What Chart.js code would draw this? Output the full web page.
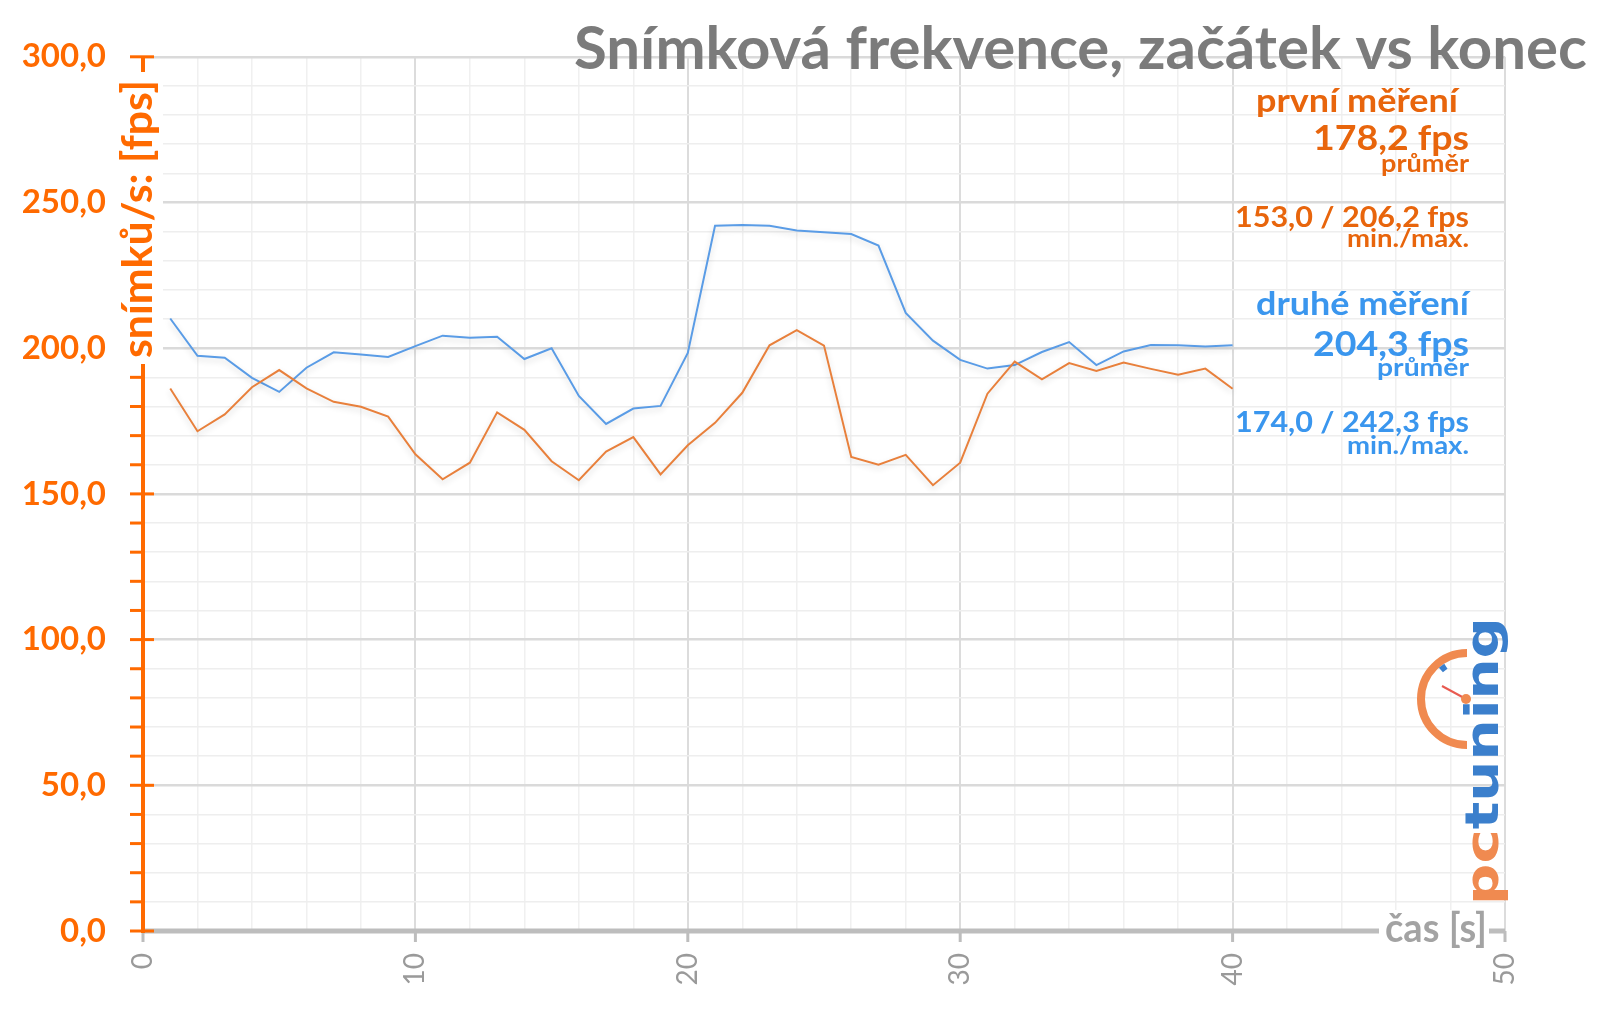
<!DOCTYPE html>
<html><head><meta charset="utf-8">
<script src="https://cdn.jsdelivr.net/npm/chart.js@4.4.0/dist/chart.umd.min.js"></script>
<style>html,body{margin:0;padding:0;background:#fff;overflow:hidden}</style>
</head><body>
<canvas id="c" width="1600" height="1015"></canvas>
<script>
const seconds = [1,2,3,4,5,6,7,8,9,10,11,12,13,14,15,16,17,18,19,20,21,22,23,24,25,26,27,28,29,30,31,32,33,34,35,36,37,38,39,40];
const firstRun = [186.2,171.5,177.3,186.6,192.5,186.2,181.6,179.9,176.5,163.6,
                  155.0,160.7,178.0,172.0,161.2,154.7,164.5,169.5,156.7,166.7,
                  174.4,184.7,201.0,206.2,200.9,162.7,160.0,163.4,153.0,160.7,
                  184.4,195.4,189.3,194.9,192.2,195.1,192.9,190.9,193.0,186.1];
const secondRun = [210.2,197.4,196.7,189.8,185.0,193.3,198.6,197.8,197.0,200.7,
                   204.3,203.6,203.9,196.3,200.0,183.6,174.0,179.3,180.2,198.4,
                   242.0,242.3,242.0,240.4,239.8,239.2,235.2,212.1,202.6,196.0,
                   193.0,194.2,198.7,202.1,194.2,198.9,201.1,201.0,200.6,201.0];
const yTickValues = [0,50,100,150,200,250,300];
const xTickValues = [0,10,20,30,40,50];
const chartTitle = 'Snímková frekvence, začátek vs konec';
const yTitle = 'snímků/s: [fps]';
const xTitle = 'čas [s]';
const firstLabel = ['první měření','178,2 fps','průměr','153,0 / 206,2 fps','min./max.'];
const secondLabel = ['druhé měření','204,3 fps','průměr','174,0 / 242,3 fps','min./max.'];

const ORANGE_AX = '#ff6a00';
const ORANGE_TXT = '#e8650c';
const BLUE_TXT = '#3a96ee';

function fitText(ctx, text, x, y, targetW, font, color, align) {
  ctx.save();
  ctx.font = font; ctx.fillStyle = color; ctx.textBaseline = 'alphabetic';
  const w = ctx.measureText(text).width;
  const s = targetW / w;
  ctx.translate(x, y); ctx.scale(s, 1);
  ctx.textAlign = align || 'right';
  ctx.fillText(text, 0, 0);
  ctx.restore();
}

const shadowPlugin = {
  id: 'shadow',
  beforeDatasetDraw(chart) {
    const ctx = chart.ctx; ctx.save();
    ctx.shadowColor = 'rgba(0,0,0,0.16)'; ctx.shadowBlur = 6; ctx.shadowOffsetY = 3;
  },
  afterDatasetDraw(chart) { chart.ctx.restore(); }
};

const decor = {
  id: 'decor',
  afterDraw(chart) {
    const ctx = chart.ctx;
    const xs = chart.scales.x, ys = chart.scales.y;
    const axX = xs.getPixelForValue(0);
    const axY = ys.getPixelForValue(0);
    ctx.save();
    // x axis line and ticks
    ctx.strokeStyle = '#bdbdbd'; ctx.lineWidth = 5;
    ctx.beginPath(); ctx.moveTo(axX, axY); ctx.lineTo(xs.getPixelForValue(50), axY); ctx.stroke();
    ctx.lineWidth = 3;
    xTickValues.forEach(v => {
      const px = xs.getPixelForValue(v);
      ctx.beginPath(); ctx.moveTo(px, axY); ctx.lineTo(px, axY + 11); ctx.stroke();
    });
    // y axis line and ticks
    ctx.strokeStyle = ORANGE_AX; ctx.lineWidth = 4;
    ctx.beginPath(); ctx.moveTo(axX, axY + 2); ctx.lineTo(axX, ys.getPixelForValue(300)); ctx.stroke();
    ctx.lineWidth = 3;
    for (let v = 0; v <= 300; v += 10) {
      const py = ys.getPixelForValue(v);
      const major = yTickValues.includes(v);
      ctx.beginPath(); ctx.moveTo(axX - 13, py); ctx.lineTo(major ? axX + 11 : axX, py); ctx.stroke();
    }
    // y axis title
    ctx.fillStyle = '#ffffff';
    ctx.fillRect(113, 72, 50, 292);
    ctx.save();
    ctx.translate(152, 358); ctx.rotate(-Math.PI / 2);
    fitText(ctx, yTitle, 0, 0, 278, 'bold 42px Lato', ORANGE_AX, 'left');
    ctx.restore();
    // x axis title
    ctx.fillStyle = '#ffffff';
    ctx.fillRect(1379, 910, 110, 40);
    fitText(ctx, xTitle, 1487, 942, 102, 'bold 40px Lato', '#a3a3a3', 'right');
    // chart title
    fitText(ctx, chartTitle, 1587, 69, 1013, 'bold 60px Lato', '#7b7b7b', 'right');
    // annotations
    fitText(ctx, firstLabel[0], 1458, 112, 202, 'bold 33px Lato', ORANGE_TXT);
    fitText(ctx, firstLabel[1], 1469, 150, 156, 'bold 35px Lato', ORANGE_TXT);
    fitText(ctx, firstLabel[2], 1469, 172, 88, 'bold 24px Lato', ORANGE_TXT);
    fitText(ctx, firstLabel[3], 1469, 227, 234, 'bold 28px Lato', ORANGE_TXT);
    fitText(ctx, firstLabel[4], 1469, 247, 122, 'bold 24px Lato', ORANGE_TXT);
    fitText(ctx, secondLabel[0], 1469, 315, 213, 'bold 33px Lato', BLUE_TXT);
    fitText(ctx, secondLabel[1], 1469, 356, 156, 'bold 35px Lato', BLUE_TXT);
    fitText(ctx, secondLabel[2], 1469, 376, 92, 'bold 24px Lato', BLUE_TXT);
    fitText(ctx, secondLabel[3], 1469, 432, 234, 'bold 28px Lato', BLUE_TXT);
    fitText(ctx, secondLabel[4], 1469, 454, 122, 'bold 24px Lato', BLUE_TXT);
    // logo
    const cx = 1467, cy = 699;
    ctx.strokeStyle = '#f08a50'; ctx.lineWidth = 8; ctx.lineCap = 'butt';
    ctx.beginPath(); ctx.arc(cx, cy, 46, Math.PI / 2, Math.PI * 1.5); ctx.stroke();
    ctx.strokeStyle = '#3b7fcc'; ctx.lineWidth = 6;
    ctx.beginPath(); ctx.arc(cx, cy, 39, 3.98, 4.14); ctx.stroke();
    ctx.strokeStyle = '#e85a50'; ctx.lineWidth = 2;
    ctx.beginPath(); ctx.moveTo(1442, 686); ctx.lineTo(cx - 1, cy); ctx.stroke();
    ctx.fillStyle = '#f08a50';
    ctx.beginPath(); ctx.arc(cx - 1, cy, 5, 0, Math.PI * 2); ctx.fill();
    ctx.save();
    ctx.translate(1498, 905); ctx.rotate(-Math.PI / 2);
    ctx.font = 'bold 46px "DejaVu Sans"';
    const w1 = ctx.measureText('pc').width, w2 = ctx.measureText('tuning').width;
    const sc = 288 / (w1 + w2);
    ctx.scale(sc, 1);
    ctx.textAlign = 'left'; ctx.textBaseline = 'alphabetic';
    ctx.fillStyle = '#f08a50'; ctx.fillText('pc', 0, 0);
    ctx.fillStyle = '#3b7fcc'; ctx.fillText('tuning', w1, 0);
    ctx.restore();
    ctx.restore();
  }
};

new Chart(document.getElementById('c'), {
  type: 'line',
  data: {
    datasets: [
      { label: 'první měření', data: seconds.map((s, i) => ({x: s, y: firstRun[i]})),
        borderColor: '#e8803c', borderWidth: 2, pointRadius: 0, tension: 0, fill: false },
      { label: 'druhé měření', data: seconds.map((s, i) => ({x: s, y: secondRun[i]})),
        borderColor: '#5a9ce6', borderWidth: 2, pointRadius: 0, tension: 0, fill: false }
    ]
  },
  options: {
    responsive: false, animation: false,
    layout: { padding: { top: 55, right: 95, left: 0, bottom: 0 } },
    plugins: { legend: { display: false }, tooltip: { enabled: false }, title: { display: false } },
    scales: {
      x: {
        type: 'linear', min: 0, max: 50,
        ticks: { stepSize: 2, autoSkip: false, maxRotation: 90, minRotation: 90, padding: 22,
          color: '#9a9a9a', font: { family: 'Lato', size: 28 },
          callback: v => xTickValues.includes(v) ? String(v) : '' },
        grid: { drawTicks: false,
          color: c => (c.tick && xTickValues.includes(c.tick.value)) ? '#dcdcdc' : '#f0f0f0',
          lineWidth: c => (c.tick && xTickValues.includes(c.tick.value)) ? 2 : 1.5 },
        border: { display: false },
        afterFit: s => { s.height = 84; }
      },
      y: {
        min: 0, max: 300,
        ticks: { stepSize: 10, autoSkip: false, padding: 37, color: ORANGE_AX,
          font: { family: 'Lato', size: 33, weight: 'bold' },
          callback: v => yTickValues.includes(v) ? v.toFixed(1).replace('.', ',') : '' },
        grid: { drawTicks: false,
          color: c => (c.tick && yTickValues.includes(c.tick.value)) ? '#dadada' : '#eeeeee',
          lineWidth: c => (c.tick && yTickValues.includes(c.tick.value)) ? 2.5 : 1.5 },
        border: { display: false },
        afterFit: s => { s.width = 143; }
      }
    }
  },
  plugins: [shadowPlugin, decor]
});
</script>
</body></html>
